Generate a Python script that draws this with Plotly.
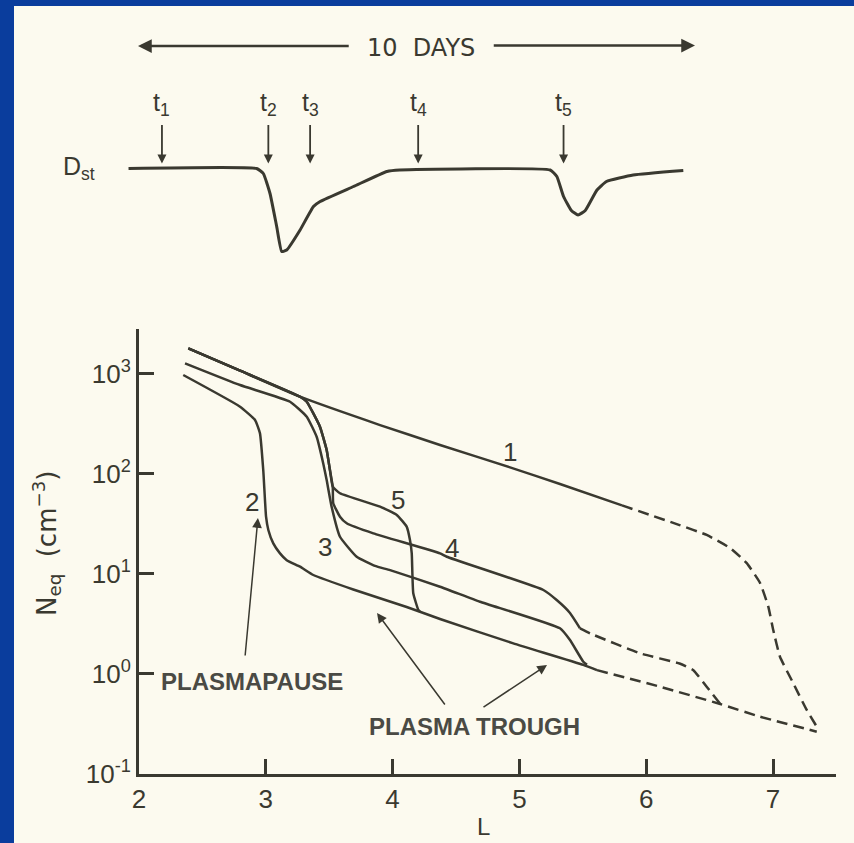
import plotly.graph_objects as go

W, H = 854, 843
INK = "#3a3930"
GRAY = "#4a4a44"
CREAM = "#fcfaef"
BLUE = "#0a3d9d"

# ---------------- Dst panel (schematic, days vs nT) ----------------
dst_day = [-0.17, 2.13, 2.25, 2.37, 2.49, 2.58, 2.67, 2.91, 3.15, 3.27, 3.87, 4.47, 4.70,
           7.40, 7.52, 7.64, 7.78, 7.90, 8.03, 8.24, 8.41, 8.89, 9.79]
dst_val = [0, 0, -5, -25, -58, -83, -81.5, -61.5, -38, -33, -18, -3, -1.5,
           -1.5, -8, -28, -42, -46.5, -42, -21.5, -13, -6.5, -2]
event_day = [0.43, 2.34, 3.09, 5.03, 7.64]
event_lbl = ["t<sub>1</sub>", "t<sub>2</sub>", "t<sub>3</sub>", "t<sub>4</sub>", "t<sub>5</sub>"]

# ---------------- Density profiles (L, N cm^-3) ----------------
c1_L = [2.389, 2.797, 3.270, 3.901, 4.374, 4.926, 5.320, 5.809]
c1_N = [1786, 1067, 586, 305, 193, 115, 78.5, 48.0]
c1d_L = [5.809, 6.263, 6.477, 6.661, 6.793, 6.898, 6.963, 7.002, 7.055, 7.160, 7.266, 7.345]
c1d_N = [48.0, 30.5, 24.3, 18.0, 12.7, 8.04, 4.66, 2.72, 1.47, 0.798, 0.432, 0.294]

c2_L = [2.349, 2.797, 2.915, 2.954, 2.980, 3.002, 3.020, 3.059, 3.112, 3.165, 3.270, 3.375,
        3.690, 4.111, 4.374, 4.952, 5.504, 5.612]
c2_N = [966, 466, 343, 252, 108, 37, 27.2, 20.0, 15.9, 13.6, 11.7, 9.66,
        6.92, 4.62, 3.51, 2.00, 1.22, 1.08]
c2d_L = [5.612, 6.109, 6.584, 6.898, 7.345]
c2d_N = [1.08, 0.738, 0.495, 0.370, 0.262]

c3_L = [2.363, 2.797, 3.191, 3.323, 3.401, 3.453, 3.480, 3.519, 3.585, 3.717, 3.861, 3.980,
        4.374, 4.689, 5.320, 5.399, 5.504, 5.533]
c3_N = [1265, 767, 522, 370, 233, 126, 86, 46.6, 23.3, 14.7, 11.9, 10.8,
        7.38, 5.22, 2.83, 2.16, 1.31, 1.22]

c4_L = [2.389, 2.797, 3.270, 3.323, 3.427, 3.480, 3.506, 3.528, 3.532, 3.585, 3.638, 3.848,
        4.374, 4.427, 5.189, 5.294, 5.399, 5.478]
c4_N = [1786, 1067, 586, 522, 294, 172, 108, 73.8, 50.4, 37.0, 31.8, 25.2,
        15.9, 14.7, 6.84, 5.43, 4.03, 2.83]
c4d_L = [5.478, 5.557, 5.951, 6.263, 6.372, 6.477, 6.584]
c4d_N = [2.83, 2.52, 1.59, 1.26, 1.08, 0.738, 0.495]

c5_L = [2.389, 2.797, 3.270, 3.323, 3.427, 3.480, 3.506, 3.528, 3.585, 3.901, 4.033, 4.111,
        4.137, 4.151, 4.163, 4.203, 4.216]
c5_N = [1786, 1067, 586, 522, 294, 172, 108, 73.8, 63.4, 46.6, 38.5, 29.4,
        21.6, 15.9, 6.34, 4.32, 4.15]

y_tickvals = [0.1, 1, 10, 100, 1000]
y_ticktext = ["10<sup>-1</sup>", "10<sup>0</sup>", "10<sup>1</sup>", "10<sup>2</sup>", "10<sup>3</sup>"]
x_tickvals = [2, 3, 4, 5, 6, 7]

# ---------------- layout helpers ----------------
def px(p):
    return p / W

def py(p):
    return 1 - p / H

PX_PER_L = 126.8
PX_PER_DAY = 55.7

fig = go.Figure()

line_style = dict(color=INK, width=2.5, shape="spline", smoothing=0.4)
dash_style = dict(color=INK, width=2.5, dash="11px,6px", shape="spline", smoothing=0.4)

for L, N in [(c1_L, c1_N), (c2_L, c2_N), (c3_L, c3_N), (c4_L, c4_N), (c5_L, c5_N)]:
    fig.add_trace(go.Scatter(x=L, y=N, mode="lines", line=line_style, xaxis="x", yaxis="y",
                             showlegend=False, hoverinfo="skip"))
for L, N in [(c1d_L, c1d_N), (c2d_L, c2d_N), (c4d_L, c4d_N)]:
    fig.add_trace(go.Scatter(x=L, y=N, mode="lines", line=dash_style, xaxis="x", yaxis="y",
                             showlegend=False, hoverinfo="skip"))

fig.add_trace(go.Scatter(x=dst_day, y=dst_val, mode="lines",
                         line=dict(color=INK, width=3, shape="spline", smoothing=0.4),
                         xaxis="x2", yaxis="y2", showlegend=False, hoverinfo="skip"))

ann = []
# event arrows + labels
for d, lbl in zip(event_day, event_lbl):
    ann.append(dict(x=d, y=5, ax=d, ay=45, xref="x2", yref="y2", axref="x2", ayref="y2",
                    text="", showarrow=True, arrowhead=2, arrowsize=1, arrowwidth=1.8,
                    arrowcolor=INK, standoff=0))
    ann.append(dict(x=d, y=65, xref="x2", yref="y2", text=lbl, showarrow=False,
                    xanchor="center", yanchor="middle",
                    font=dict(family="Liberation Sans", size=25, color=INK)))
# 10 days arrow
ann.append(dict(x=0, y=122.5, ax=3.81, ay=122.5, xref="x2", yref="y2", axref="x2", ayref="y2",
                text="", showarrow=True, arrowhead=2, arrowsize=1.1, arrowwidth=2.5,
                arrowcolor=INK, standoff=0))
ann.append(dict(x=10.0, y=123, ax=6.36, ay=123, xref="x2", yref="y2", axref="x2", ayref="y2",
                text="", showarrow=True, arrowhead=2, arrowsize=1.1, arrowwidth=2.5,
                arrowcolor=INK, standoff=0))
ann.append(dict(x=5.08, y=120.5, xref="x2", yref="y2", text="10  DAYS", showarrow=False,
                xanchor="center", yanchor="middle",
                font=dict(family="DejaVu Sans", size=24, color=INK)))
ann.append(dict(x=px(79), y=py(168), xref="paper", yref="paper", text="D<sub>st</sub>",
                xanchor="center", yanchor="middle",
                showarrow=False, font=dict(family="Liberation Sans", size=25, color=INK)))

# curve labels
for L, lg, t in [(4.926, 2.218, "1"), (2.888, 1.718, "2"), (3.467, 1.268, "3"),
                 (4.466, 1.252, "4"), (4.045, 1.735, "5")]:
    ann.append(dict(x=L, y=lg, xref="x", yref="y", text=t, showarrow=False,
                    xanchor="center", yanchor="middle",
                    font=dict(family="Liberation Sans", size=26, color=INK)))

# plasmapause / trough labels + arrows
ann.append(dict(x=2.891, y=-0.075, xref="x", yref="y", text="<b>PLASMAPAUSE</b>", showarrow=False,
                xanchor="center", yanchor="middle",
                font=dict(family="Liberation Sans", size=24, color=GRAY)))
ann.append(dict(x=4.642, y=-0.53, xref="x", yref="y", text="<b>PLASMA TROUGH</b>", showarrow=False,
                xanchor="center", yanchor="middle",
                font=dict(family="Liberation Sans", size=24, color=GRAY)))
for hx, hy, tx, ty in [(2.938, 1.555, 2.836, 0.165), (3.877, 0.605, 4.421, -0.325),
                       (5.218, 0.085, 4.705, -0.345)]:
    ann.append(dict(x=hx, y=hy, ax=tx, ay=ty, xref="x", yref="y", axref="x", ayref="y",
                    text="", showarrow=True, arrowhead=2, arrowsize=1.3, arrowwidth=1.5,
                    arrowcolor=INK, standoff=0))

# axis titles
ann.append(dict(x=px(484), y=py(826), xref="paper", yref="paper", text="L", showarrow=False,
                xanchor="center", yanchor="middle",
                font=dict(family="Liberation Sans", size=24, color=INK)))
ann.append(dict(x=px(46), y=py(544), xref="paper", yref="paper",
                text="N<sub>eq</sub>  (cm<sup>\u22123</sup>)", showarrow=False, textangle=-90,
                xanchor="center", yanchor="middle",
                font=dict(family="DejaVu Sans", size=26, color=INK)))

x_left, x_right = 139, 836
y_top, y_bot = 328.5, 773.5
dst_left = 100

fig.update_layout(
    template="none",
    width=W, height=H,
    margin=dict(l=0, r=0, t=0, b=0, pad=0),
    paper_bgcolor=BLUE,
    plot_bgcolor="rgba(0,0,0,0)",
    shapes=[dict(type="rect", xref="paper", yref="paper", x0=px(14), x1=1.0, y0=0, y1=py(6),
                 fillcolor=CREAM, line=dict(width=0), layer="below")],
    xaxis=dict(domain=[px(x_left), px(x_right)],
               range=[2, 2 + (x_right - x_left) / PX_PER_L], automargin=False,
               showline=True, linecolor=INK, linewidth=3, mirror=False,
               ticks="inside", ticklen=15, tickwidth=2.5, tickcolor=INK,
               tickvals=x_tickvals, showgrid=False, zeroline=False,
               ticklabelstandoff=0,
               tickfont=dict(family="Liberation Sans", size=26, color=INK),
               anchor="y"),
    yaxis=dict(domain=[py(y_bot), py(y_top)], type="log", range=[-1, 3.45], automargin=False,
               showline=True, linecolor=INK, linewidth=3,
               ticks="inside", ticklen=15, tickwidth=2.5, tickcolor=INK,
               tickvals=y_tickvals, ticktext=y_ticktext, showgrid=False, zeroline=False,
               ticklabelstandoff=0,
               tickfont=dict(family="Liberation Sans", size=26, color=INK),
               anchor="x"),
    xaxis2=dict(domain=[px(dst_left), px(x_right)],
                range=[(dst_left - 138) / PX_PER_DAY, (x_right - 138) / PX_PER_DAY],
                visible=False, automargin=False, anchor="y2"),
    yaxis2=dict(domain=[py(270), py(20)], range=[-(270 - 168.5), 168.5 - 20],
                visible=False, automargin=False, anchor="x2"),
    annotations=ann,
)

fig.write_html("out.html")
